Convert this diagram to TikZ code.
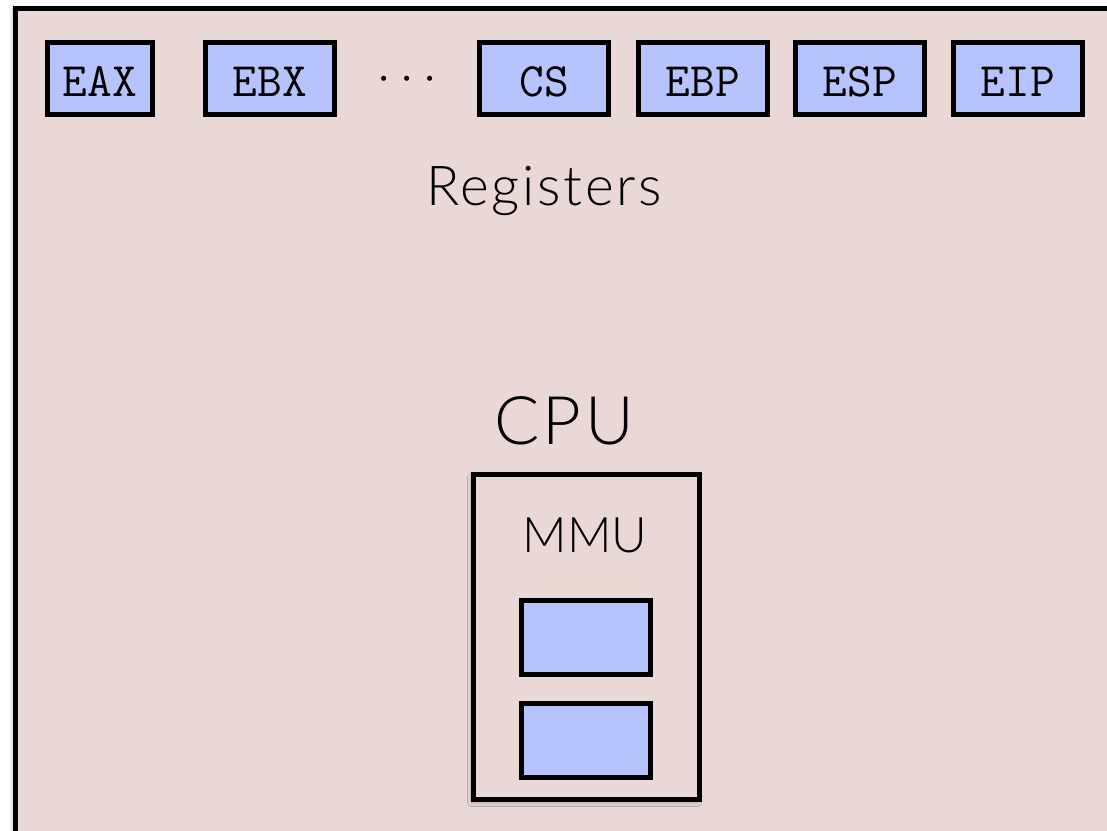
\documentclass[tikz,border=0pt]{standalone}
\usepackage{fontspec}
\newfontfamily\thinsans{Lato}[UprightFont={* Light}]
\newfontfamily\thinwide{Lato}[UprightFont={* Light},LetterSpace=5]
\usetikzlibrary{shadows.blur}
\definecolor{cpupink}{RGB}{234,216,215}
\definecolor{regblue}{RGB}{183,195,252}

\begin{document}
\begin{tikzpicture}[x=1pt,y=-1pt,
			reg/.style={draw=black,line width=5pt,fill=regblue,minimum width=129pt,
				minimum height=72pt,inner sep=0pt,text height=35pt,text depth=0pt,
				font=\ttfamily\fontsize{48}{48}\selectfont},
			lbl/.style={inner sep=0pt,font=\thinwide\fontsize{#1}{#1}\selectfont}]
			\useasboundingbox (0,0) rectangle (1107,830);
			
			% cpu body, cut off at the right and bottom
			\begin{scope}
				\clip (0,0) rectangle (1107,830);
				\draw[line width=5pt,fill=cpupink,
				blur shadow={shadow xshift=-3pt,shadow yshift=0pt,shadow blur radius=4pt,shadow opacity=25}]
				(15.5,8.5) rectangle (1140,860);
			\end{scope}
			
			% registers
			\node[reg,minimum width=105pt] (eax) at (100,78.5) {EAX};
			\node[reg] (ebx) at (270,78.5) {EBX};
			\node[inner sep=0pt,font=\ttfamily\fontsize{45}{45}\selectfont] (dots) at (407,84) {\textperiodcentered\textperiodcentered\textperiodcentered};
			\node[reg] (cs) at (544,78.5) {CS};
			\node[reg] (ebp) at (703,78.5) {EBP};
			\node[reg] (esp) at (860,78.5) {ESP};
			\node[reg] (eip) at (1018,78.5) {EIP};
			\node[lbl=55] (regs) at (544,191) {Registers};
			
			\node[lbl=67] (cpu) at (564,421) {CPU};
			
			% mmu
			\node[draw=black,line width=5pt,fill=cpupink,minimum width=226pt,minimum height=325pt,
			blur shadow={shadow xshift=-2pt,shadow yshift=-3pt,shadow blur radius=4pt,shadow opacity=30}]
			(mmu) at (586.5,637) {};
			\node[inner sep=0pt,font=\thinsans\fontsize{49}{49}\selectfont] (mmutxt) at (585,535) {MMU};
			\node[reg,minimum height=74pt] (tlb1) at (586,637.5) {};
			\node[reg,minimum height=74pt] (tlb2) at (586,740.5) {};
		\end{tikzpicture}
\end{document}
